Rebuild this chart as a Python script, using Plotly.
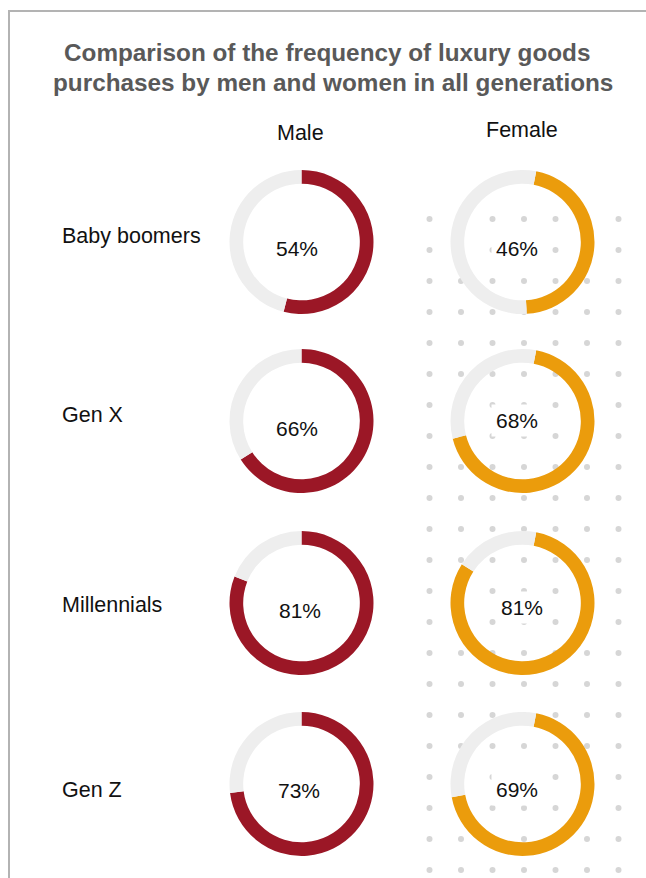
import numpy as np
import plotly.graph_objects as go

# ---- data ----
generations = ["Baby boomers", "Gen X", "Millennials", "Gen Z"]
male_pct = [54, 66, 81, 73]
female_pct = [46, 68, 81, 69]
col_titles = ["Male", "Female"]
title_lines = ["Comparison of the frequency of luxury goods",
               "purchases by men and women in all generations"]

# ---- styling / layout ----
W, H = 646, 878
MALE_C = "#9b1726"
FEMALE_C = "#eb9c0c"
TRACK_C = "#eeeeee"
FONT = "Liberation Sans, Arial, sans-serif"

row_cy = [242, 421, 603, 784]
col_cx = [301.5, 522.5]
R = 72
label_pos = [(60, 236), (60, 415), (60, 605), (60, 790)]
male_txt = [(297, 248), (297, 428), (300, 610), (299, 790)]
female_txt = [(517, 248), (517, 420), (522, 607), (517, 789)]
title_pos = [(327, 52), (333, 82)]

fig = go.Figure()

# dotted background pattern (decoration)
gx = np.linspace(429.5, 618.5, 7)
gy = np.arange(219, 871, 31)
XX, YY = np.meshgrid(gx, gy)
fig.add_trace(go.Scatter(
    x=XX.ravel(), y=YY.ravel(), mode="markers",
    marker=dict(size=6, color="#d6d6d6"),
    hoverinfo="skip", showlegend=False))

def dom(cx, cy):
    return dict(x=[(cx - R) / W, (cx + R) / W],
                y=[1 - (cy + R) / H, 1 - (cy - R) / H])

for i, g in enumerate(generations):
    for j, (vals, col, rot) in enumerate([(male_pct, MALE_C, 0), (female_pct, FEMALE_C, 11)]):
        v = vals[i]
        fig.add_trace(go.Pie(
            values=[v, 100 - v], labels=[g + " " + col_titles[j], "other"],
            hole=0.81, sort=False, direction="clockwise", rotation=rot,
            marker=dict(colors=[col, TRACK_C], line=dict(width=0)),
            textinfo="none", hoverinfo="skip", showlegend=False,
            domain=dom(col_cx[j], row_cy[i])))

annotations = []
for k, line in enumerate(title_lines):
    annotations.append(dict(x=title_pos[k][0], y=title_pos[k][1], text="<b>" + line + "</b>",
                            showarrow=False, xanchor="center", yanchor="middle",
                            font=dict(family=FONT, size=24.3, color="#595959")))
annotations.append(dict(x=300, y=133, text=col_titles[0], showarrow=False,
                        font=dict(family=FONT, size=21.5, color="#111111")))
annotations.append(dict(x=522, y=130, text=col_titles[1], showarrow=False,
                        font=dict(family=FONT, size=21.5, color="#111111")))
for i, g in enumerate(generations):
    annotations.append(dict(x=label_pos[i][0], y=label_pos[i][1], text=g, showarrow=False,
                            xanchor="left", font=dict(family=FONT, size=21.5, color="#111111")))
    annotations.append(dict(x=male_txt[i][0], y=male_txt[i][1], text=f"{male_pct[i]}%",
                            showarrow=False, font=dict(family=FONT, size=21, color="#111111")))
    annotations.append(dict(x=female_txt[i][0], y=female_txt[i][1], text=f"{female_pct[i]}%",
                            showarrow=False, bgcolor="white", borderpad=4,
                            font=dict(family=FONT, size=21, color="#111111")))

shapes = [
    dict(type="line", x0=9, x1=9, y0=10, y1=H, line=dict(color="#b3b3b3", width=2)),
    dict(type="line", x0=8, x1=W, y0=11, y1=11, line=dict(color="#b3b3b3", width=2)),
]

fig.update_layout(
    width=W, height=H, autosize=False,
    margin=dict(l=0, r=0, t=0, b=0, pad=0),
    paper_bgcolor="white", plot_bgcolor="white",
    xaxis=dict(range=[0, W], visible=False, fixedrange=True),
    yaxis=dict(range=[H, 0], visible=False, fixedrange=True),
    annotations=annotations, shapes=shapes, showlegend=False,
)

fig.write_html("out.html", config={"displayModeBar": False},
               post_script="document.body.style.margin='0';document.body.style.overflow='hidden';")
